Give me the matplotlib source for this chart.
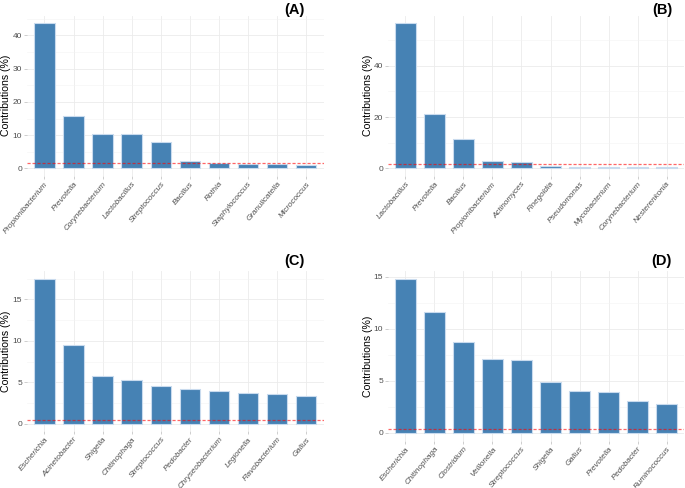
import matplotlib.pyplot as plt
from matplotlib.ticker import MultipleLocator

plt.rcParams['font.family'] = ['Liberation Sans', 'DejaVu Sans']

# panel A
genera_a = ['Propionibacterium', 'Prevotella', 'Corynebacterium', 'Lactobacillus',
            'Streptococcus', 'Bacillus', 'Rothia', 'Staphylococcus', 'Granulicatella',
            'Micrococcus']
contrib_a = [43.8, 15.8, 10.4, 10.2, 8.0, 2.2, 1.6, 1.4, 1.3, 0.9]
cutoff_a = 1.75

# panel B
genera_b = ['Lactobacillus', 'Prevotella', 'Bacillus', 'Propionibacterium', 'Actinomyces',
            'Finegoldia', 'Pseudomonas', 'Mycobacterium', 'Corynebacterium',
            'Nesterenkonia']
contrib_b = [56.6, 21.0, 11.3, 3.0, 2.5, 1.1, 0.7, 0.7, 0.6, 0.6]
cutoff_b = 1.8

# panel C
genera_c = ['Escherichia', 'Acinetobacter', 'Shigella', 'Chitinophaga', 'Streptococcus',
            'Pedobacter', 'Chryseobacterium', 'Legionella', 'Flavobacterium', 'Gallus']
contrib_c = [17.5, 9.5, 5.8, 5.3, 4.6, 4.2, 3.9, 3.7, 3.6, 3.3]
cutoff_c = 0.4

# panel D
genera_d = ['Escherichia', 'Chitinophaga', 'Clostridium', 'Veillonella', 'Streptococcus',
            'Shigella', 'Gallus', 'Prevotella', 'Pedobacter', 'Ruminococcus']
contrib_d = [14.8, 11.6, 8.7, 7.1, 7.0, 4.9, 4.05, 3.95, 3.05, 2.75]
cutoff_d = 0.4

W, H = 685, 488
fig = plt.figure(figsize=(W / 100, H / 100), dpi=100)


def px_axes(x0, y0, x1, y1):
    # pixel box (top-left origin) -> figure fraction
    return fig.add_axes([x0 / W, 1 - y1 / H, (x1 - x0) / W, (y1 - y0) / H])


def panel(box, names, vals, cutoff, tag, tag_xy, ylab_x, major, minor):
    ax = px_axes(*box)
    xs = range(len(names))
    ax.bar(xs, vals, width=0.7, color='#4682B4', edgecolor='#c9dbee', linewidth=0.8,
           zorder=2)
    ax.axhline(cutoff, color='red', linestyle=(0, (2.5, 1.5)), linewidth=0.9, alpha=0.6,
               zorder=3)
    top = max(vals)
    ax.set_ylim(-0.05 * top, 1.05 * top)
    ax.set_xlim(-0.6, len(names) - 0.4)
    ax.yaxis.set_major_locator(MultipleLocator(major))
    ax.yaxis.set_minor_locator(MultipleLocator(minor))
    ax.set_xticks(list(xs))
    ax.set_xticklabels(names, rotation=50, ha='right', rotation_mode='anchor',
                       fontsize=5.8, style='italic', color='#4d4d4d')
    ax.tick_params(axis='y', labelsize=6, labelcolor='#4d4d4d')
    ax.tick_params(which='both', length=2, width=0.5, color='#bbbbbb', pad=1.5)
    ax.tick_params(which='minor', length=0)
    ax.grid(True, which='major', color='#ebebeb', linewidth=0.6, zorder=0)
    ax.grid(True, which='minor', axis='y', color='#f3f3f3', linewidth=0.4, zorder=0)
    ax.set_axisbelow(True)
    for s in ax.spines.values():
        s.set_visible(False)
    fig.text(ylab_x / W, 1 - (box[1] + box[3]) / 2 / H, 'Contributions (%)',
             rotation=90, ha='center', va='center', fontsize=7.6)
    fig.text(tag_xy[0] / W, 1 - tag_xy[1] / H, tag, ha='center', va='center',
             fontsize=10.5, fontweight='bold')
    return ax


panel((27, 15.6, 323.5, 175.6), genera_a, contrib_a, cutoff_a, '(A)', (294, 10),
      6, 10, 5)
panel((388, 15.9, 684, 175.6), genera_b, contrib_b, cutoff_b, '(B)', (662, 10),
      368, 20, 10)
panel((27, 271.4, 323.5, 431), genera_c, contrib_c, cutoff_c, '(C)', (294, 261),
      6, 5, 2.5)
panel((388, 271, 684, 440.7), genera_d, contrib_d, cutoff_d, '(D)', (661, 261),
      368, 5, 2.5)

fig.savefig('out.png', dpi=100)
